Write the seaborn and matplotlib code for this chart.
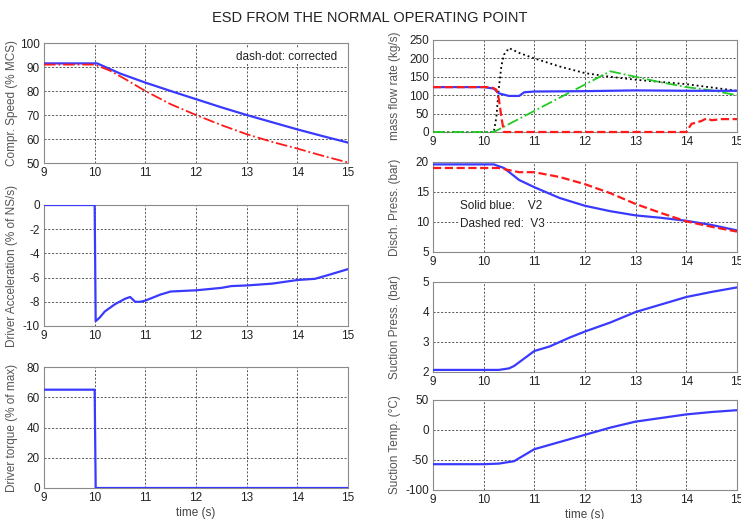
import matplotlib
matplotlib.use("Agg")
import matplotlib.pyplot as plt
import seaborn as sns
import numpy as np

sns.set_style("white")
plt.rcParams['font.family'] = ['Liberation Sans', 'DejaVu Sans']
plt.rcParams['axes.unicode_minus'] = False

# ---------------- data ----------------
# Compressor speed
spd_t_blue = [9, 10.05, 10.5, 11, 11.5, 12, 12.5, 13, 13.5, 14, 14.5, 15]
spd_blue = [91.5, 91.5, 87.3, 83.5, 80.0, 76.6, 73.2, 70.0, 67.0, 64.0, 61.2, 58.5]
spd_t_red = [9, 10.0, 10.3, 10.6, 11, 11.5, 12, 12.5, 13, 13.5, 14, 14.5, 15]
spd_red = [91.0, 91.0, 88.5, 85.0, 80.0, 74.5, 70.0, 65.8, 62.0, 58.8, 56.0, 53.0, 50.2]

# Driver acceleration
acc_t = [9, 10.0, 10.02, 10.1, 10.2, 10.4, 10.6, 10.7, 10.8, 10.9, 11.0, 11.3, 11.5,
         12.0, 12.5, 12.7, 13.0, 13.5, 14.0, 14.35, 14.6, 15.0]
acc = [0, 0, -9.6, -9.3, -8.8, -8.2, -7.75, -7.6, -8.0, -8.0, -7.9, -7.4, -7.15,
       -7.05, -6.85, -6.7, -6.65, -6.5, -6.2, -6.1, -5.8, -5.3]

# Driver torque
trq_t = [9, 10.0, 10.02, 15]
trq = [65, 65, 0, 0]

# Mass flow rates
mf_t_blue = [9, 10.0, 10.2, 10.3, 10.5, 10.7, 10.8, 11, 12, 13, 14, 15]
mf_blue = [122, 122, 118, 105, 98, 98, 108, 110, 111, 113, 112, 112]
mf_t_red = [9, 10.15, 10.25, 10.3, 10.35, 10.4, 14.0, 14.1, 14.3, 14.4, 14.5, 14.7, 15]
mf_red = [122, 122, 115, 90, 40, 0, 0, 22, 30, 37, 32, 35, 35]
mf_t_black = [9, 10.2, 10.25, 10.3, 10.35, 10.4, 10.5, 10.7, 11, 11.5, 12, 12.5, 13, 14, 15]
mf_black = [0, 0, 40, 120, 180, 210, 228, 215, 200, 178, 160, 150, 142, 130, 112]
mf_t_green = [9, 10.2, 12.5, 13, 13.5, 14, 14.5, 15]
mf_green = [0, 0, 165, 150, 135, 122, 113, 100]

# Discharge pressure
dp_t_blue = [9, 10.2, 10.4, 10.7, 11, 11.5, 12, 12.5, 13, 13.5, 14, 14.5, 15]
dp_blue = [19.6, 19.6, 19.0, 17.0, 15.8, 14.0, 12.7, 11.8, 11.1, 10.7, 10.2, 9.5, 8.6]
dp_t_red = [9, 10.3, 10.7, 11, 11.5, 12, 12.5, 13, 13.5, 14, 14.5, 15]
dp_red = [19.0, 19.0, 18.3, 18.3, 17.5, 16.3, 14.8, 13.0, 11.5, 10.1, 9.2, 8.4]

# Suction pressure
sp_t = [9, 10.3, 10.5, 10.6, 10.8, 11, 11.3, 11.7, 12, 12.5, 13, 13.5, 14, 14.5, 15]
sp = [2.07, 2.07, 2.12, 2.2, 2.45, 2.7, 2.85, 3.15, 3.35, 3.65, 4.0, 4.25, 4.5, 4.67, 4.82]

# Suction temperature
st_t = [9, 10.0, 10.3, 10.6, 10.8, 11, 11.5, 12, 12.5, 13, 13.5, 14, 14.5, 15]
st = [-57, -57, -56, -52, -42, -32, -20, -8, 4, 14, 20, 26, 30, 33]

xticks = [9, 10, 11, 12, 13, 14, 15]

# ---------------- figure ----------------
W, H = 741, 519
fig = plt.figure(figsize=(W / 100, H / 100), dpi=100)

BLUE = '#3a3aff'
RED = '#ff1a1a'
GREEN = '#22cc22'


def make_ax(x0, y0, x1, y1):
    return fig.add_axes([x0 / W, 1 - y1 / H, (x1 - x0) / W, (y1 - y0) / H])


def style(ax, ylim, yticks, ylabel, xlabel=None):
    ax.set_xlim(9, 15)
    ax.set_ylim(*ylim)
    ax.set_xticks(xticks)
    ax.set_yticks(yticks)
    ax.grid(True, color='k', linestyle=(0, (2.5, 2)), linewidth=0.6, alpha=0.75)
    for s in ax.spines.values():
        s.set_color('#8a8a8a')
        s.set_linewidth(0.8)
    ax.tick_params(labelsize=8.5, length=0, pad=3, colors='#222222')
    ax.set_ylabel(ylabel, fontsize=8.5, color='#555555')
    ax.set_xlabel(xlabel if xlabel else '', fontsize=8.5, color='#444444', labelpad=2)


def line(ax, t, v, color, ls='-', lw=1.6, clip=True):
    sns.lineplot(x=t, y=v, ax=ax, color=color, linestyle=ls, linewidth=lw,
                 estimator=None, sort=False, legend=False, clip_on=clip, zorder=3)


# Left column
ax1 = make_ax(44, 43, 348, 163)
line(ax1, spd_t_blue, spd_blue, BLUE)
line(ax1, spd_t_red, spd_red, RED, ls='-.', lw=1.3)
style(ax1, (50, 100), [50, 60, 70, 80, 90, 100], 'Compr. Speed (% MCS)')
ax1.text(0.63, 0.86, 'dash-dot: corrected', transform=ax1.transAxes, fontsize=8.5,
         color='#222222', bbox=dict(facecolor='white', edgecolor='none', pad=1))

ax2 = make_ax(44, 205, 348, 326)
line(ax2, acc_t, acc, BLUE)
style(ax2, (-10, 0), [-10, -8, -6, -4, -2, 0], 'Driver Acceleration (% of NS/s)')

ax3 = make_ax(44, 367, 348, 488)
line(ax3, trq_t, trq, BLUE)
style(ax3, (0, 80), [0, 20, 40, 60, 80], 'Driver torque (% of max)', 'time (s)')

# Right column
ax4 = make_ax(433, 40, 737, 132)
line(ax4, mf_t_black, mf_black, 'k', ls=':', lw=1.3, clip=False)
line(ax4, mf_t_green, mf_green, GREEN, ls='-.', lw=1.3, clip=False)
line(ax4, mf_t_blue, mf_blue, BLUE)
line(ax4, mf_t_red, mf_red, RED, ls='--', lw=1.6, clip=False)
style(ax4, (0, 250), [0, 50, 100, 150, 200, 250], 'mass flow rate (kg/s)')

ax5 = make_ax(433, 162, 737, 252)
line(ax5, dp_t_blue, dp_blue, BLUE)
line(ax5, dp_t_red, dp_red, RED, ls='--', lw=1.6)
style(ax5, (5, 20), [5, 10, 15, 20], 'Disch. Press. (bar)')
ax5.text(0.09, 0.575, 'Solid blue:    V2\nDashed red:  V3', transform=ax5.transAxes,
         fontsize=8.5, color='#222222', va='top', linespacing=1.6,
         bbox=dict(facecolor='white', edgecolor='none', pad=1))

ax6 = make_ax(433, 282, 737, 372)
line(ax6, sp_t, sp, BLUE)
style(ax6, (2, 5), [2, 3, 4, 5], 'Suction Press. (bar)')

ax7 = make_ax(433, 400, 737, 490)
line(ax7, st_t, st, BLUE)
style(ax7, (-100, 50), [-100, -50, 0, 50], 'Suction Temp. (°C)', 'time (s)')

# align y-labels (coordinate = right edge of the rotated label)
for ax in (ax1, ax2, ax3):
    ax.yaxis.set_label_coords(-26 / 304, 0.5)
for ax in (ax4, ax5, ax6, ax7):
    ax.yaxis.set_label_coords(-32 / 304, 0.5)

fig.text(370 / W, 1 - 18 / H, 'ESD FROM THE NORMAL OPERATING POINT', ha='center',
         va='center', fontsize=10.5, color='#222222')

fig.savefig('out.png', dpi=100)
